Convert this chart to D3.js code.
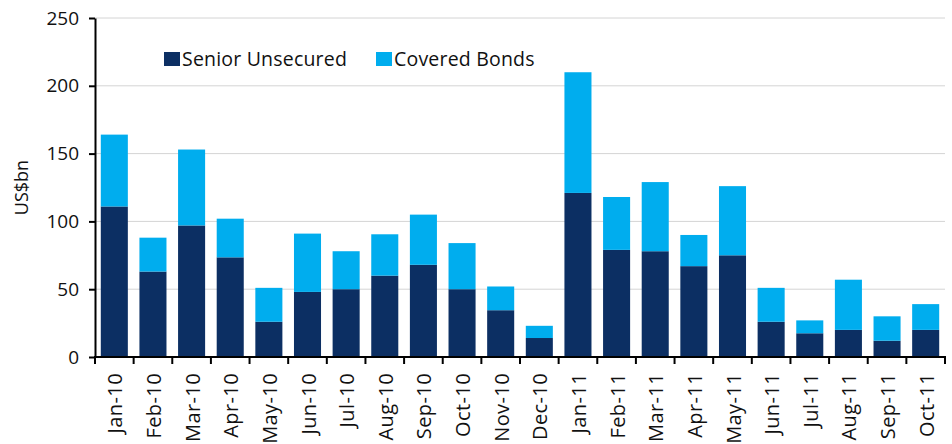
<!DOCTYPE html>
<html>
<head>
<meta charset="utf-8">
<script src="https://cdn.jsdelivr.net/npm/d3@7"></script>
<style>
  html, body { margin: 0; padding: 0; background: #fff; }
  svg { display: block; font-family: "Open Sans", "Noto Sans", sans-serif; }
</style>
</head>
<body>
<svg id="chart" width="952" height="444"></svg>
<script>
// Monthly issuance, US$bn
const months = ["Jan-10","Feb-10","Mar-10","Apr-10","May-10","Jun-10","Jul-10","Aug-10","Sep-10","Oct-10","Nov-10","Dec-10",
                "Jan-11","Feb-11","Mar-11","Apr-11","May-11","Jun-11","Jul-11","Aug-11","Sep-11","Oct-11"];
const seniorUnsecured = [111, 63, 97, 73.5, 26, 48, 50, 60, 68, 50, 34.5, 14, 121, 79, 78, 67, 75, 26, 17.5, 20, 12, 20];
const coveredBonds    = [53, 25, 56, 28.5, 25, 43, 28, 30.5, 37, 34, 17.5, 9, 89, 39, 51, 23, 51, 25, 9.5, 37, 18, 19];
const yTicks = [0, 50, 100, 150, 200, 250];
const seriesNames = ["Senior Unsecured", "Covered Bonds"];
const seriesColors = ["#0c2f63", "#00adee"];

const svg = d3.select("#chart");
const plotLeft = 95, plotRight = 945, plotTop = 18, plotBottom = 357;

const x = d3.scaleBand().domain(months).range([plotLeft, plotRight]).paddingInner(0.3).paddingOuter(0.15);
const y = d3.scaleLinear().domain([0, 250]).range([plotBottom, plotTop]);

// Gridlines
svg.append("g")
  .selectAll("line")
  .data(yTicks.filter(d => d > 0))
  .join("line")
  .attr("x1", plotLeft).attr("x2", plotRight)
  .attr("y1", d => y(d)).attr("y2", d => y(d))
  .attr("stroke", "#d4d4d4").attr("stroke-width", 1);

// Stacked bars
const rows = months.map((m, i) => ({ month: m, senior: seniorUnsecured[i], covered: coveredBonds[i] }));
const stack = d3.stack().keys(["senior", "covered"])(rows);
svg.append("g")
  .selectAll("g")
  .data(stack)
  .join("g")
  .attr("fill", (d, i) => seriesColors[i])
  .selectAll("rect")
  .data(d => d)
  .join("rect")
  .attr("x", d => x(d.data.month))
  .attr("width", x.bandwidth())
  .attr("y", d => y(d[1]))
  .attr("height", d => y(d[0]) - y(d[1]));

// Y axis
const yAxis = svg.append("g")
  .attr("transform", `translate(${plotLeft},0)`)
  .call(d3.axisLeft(y).tickValues(yTicks).tickSize(6).tickPadding(10).tickSizeOuter(0));
yAxis.select(".domain").attr("stroke", "#000").attr("stroke-width", 2);
yAxis.selectAll(".tick line").attr("stroke", "#000").attr("stroke-width", 2);
yAxis.selectAll(".tick text").attr("font-size", 19).attr("fill", "#111").attr("font-family", "Open Sans");

// X axis: ticks sit on category boundaries
const boundaries = d3.range(months.length + 1).map(i => plotLeft + (plotRight - plotLeft) * i / months.length);
const xAxisG = svg.append("g");
xAxisG.append("line")
  .attr("x1", plotLeft - 1).attr("x2", plotRight + 1)
  .attr("y1", plotBottom).attr("y2", plotBottom)
  .attr("stroke", "#000").attr("stroke-width", 2);
xAxisG.selectAll("line.tk")
  .data(boundaries)
  .join("line")
  .attr("class", "tk")
  .attr("x1", d => d).attr("x2", d => d)
  .attr("y1", plotBottom).attr("y2", plotBottom + 7)
  .attr("stroke", "#000").attr("stroke-width", 2);
xAxisG.selectAll("text")
  .data(months)
  .join("text")
  .attr("transform", d => `translate(${x(d) + x.bandwidth() / 2 + 1},${plotBottom + 16}) rotate(-90)`)
  .attr("text-anchor", "end")
  .attr("dy", "0.35em")
  .attr("font-size", 20)
  .attr("letter-spacing", 0.4)
  .attr("fill", "#111")
  .text(d => d);

// Y axis title
svg.append("text")
  .attr("transform", `translate(22,${(plotTop + plotBottom) / 2}) rotate(-90)`)
  .attr("text-anchor", "middle")
  .attr("dy", "0.35em")
  .attr("font-size", 18)
  .attr("fill", "#111")
  .text("US$bn");

// Legend
const legendX = [164, 376];
const legend = svg.append("g");
seriesNames.forEach((name, i) => {
  legend.append("rect")
    .attr("x", legendX[i]).attr("y", 52)
    .attr("width", 16).attr("height", 14)
    .attr("fill", seriesColors[i]);
  legend.append("text")
    .attr("x", legendX[i] + 18).attr("y", 59)
    .attr("dy", "0.35em")
    .attr("font-size", 19.5)
    .attr("letter-spacing", 0.2)
    .attr("fill", "#111")
    .text(name);
});
</script>
</body>
</html>
